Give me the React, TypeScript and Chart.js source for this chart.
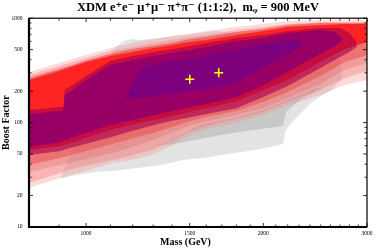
import React, { useEffect, useRef } from 'react';
import { Chart, registerables } from 'chart.js';

Chart.register(...registerables);

// ---------- data (mass in GeV, boost factor) ----------
const bandMass = [800, 900, 950, 1000, 1100, 1200, 1300, 1400, 1500, 1600, 1800, 2000, 2200, 2500, 2750, 3000];
const pinkOuterTop = [305, 372, 410, 444, 518, 580, 632, 675, 706, 754, 823, 880, 940, 961, 961, 961];
const pinkOuterBottom = [23.6, 29.3, 31.8, 34.5, 40.6, 44.1, 49.5, 61, 76, 87, 99, 118, 147, 184, 229, 256];
const pinkLightTop = [286, 348, 381, 416, 485, 530, 579, 618, 660, 690, 771, 823, 880, 920, 920, 920];
const pinkLightBottom = [26.4, 32.7, 36.1, 38.7, 43.3, 48.8, 55.1, 67.5, 81.6, 92.8, 108, 126, 158, 205, 267, 312];
const salmonTop = [267, 326, 356, 394, 454, 507, 542, 580, 632, 660, 738, 788, 861, 900, 900, 900];
const dustyBottom = [33.6, 39.1, 42, 44.8, 50.5, 58.8, 68.3, 80.2, 93.2, 103, 118, 138, 172, 234, 319, 372];
const salmonBottom = [39.3, 45.6, 49.6, 53.6, 61.8, 70.9, 79.5, 90.8, 103, 113, 129, 158, 196, 280, 381, 444];
const redTop = [256, 312, 347, 381, 434, 475, 518, 554, 592, 618, 690, 754, 823, 860, 880, 880];
const redBottom = [54.6, 59.5, 64.6, 71.7, 84.8, 95.7, 106, 115, 126, 137, 160, 205, 256, 381, 507, 592];

const crimsonMass = [800, 900, 915, 920, 950, 1000, 1100, 1200, 1300, 1400, 1500, 1600, 1800, 2000, 2200, 2500, 2700, 2800, 2880];
const crimsonTop = [132, 141, 141, 205, 229, 280, 390, 435, 475, 507, 542, 579, 646, 690, 754, 806, 806, 722, 592];
const crimsonBottom = [49, 53.3, 54.6, 55.2, 58, 62.7, 72.5, 83.5, 94.4, 104, 112, 121, 137, 176, 224, 333, 425, 475, 530];

const magentaMass = [800, 900, 915, 920, 950, 1000, 1100, 1200, 1300, 1400, 1500, 1600, 1800, 2000, 2200, 2500, 2650, 2720];
const magentaTop = [121, 129, 129, 184, 205, 256, 356, 398, 435, 464, 496, 530, 605, 646, 722, 771, 738, 646];
const magentaBottom = [58.4, 64.9, 66.6, 67.7, 72, 79.5, 94.8, 106, 117, 129, 140, 151, 175, 229, 305, 454, 542, 605];

const purpleMass = [1165, 1190, 1205, 1225, 1250, 1370, 1560, 1800, 2000, 2200, 2290, 2340, 2290, 2200, 2000, 1800, 1670, 1460, 1285];
const purpleBoost = [168, 214, 256, 305, 341, 381, 425, 507, 566, 618, 618, 566, 518, 454, 341, 245, 219, 196, 176];

const grayOuterMass = [1110, 1135, 1160, 1200, 1235, 1335, 1500, 1655, 1825, 2135, 2500, 2700, 2720, 2660, 2615, 2505, 2410, 2320, 2230, 2180, 2160, 1980, 1790, 1590, 1470, 1340, 1225, 1135, 1035, 943, 903];
const grayOuterBoost = [496, 554, 605, 632, 618, 646, 706, 754, 722, 646, 554, 398, 256, 234, 205, 180, 154, 124, 99, 83, 62.4, 55.8, 51.2, 46, 44, 39.3, 36.7, 35, 33.6, 30.8, 28.8];

const grayInnerMass = [1335, 1560, 1805, 2000, 2200, 2450, 2500, 2480, 2355, 2265, 2185, 2160, 1980, 1740, 1530, 1380];
const grayInnerBoost = [60, 95, 113, 132, 165, 214, 214, 205, 176, 151, 126, 93, 87, 78, 68, 61];

const bestFitMass = [1500, 1680];
const bestFitBoost = [260, 300];

const xLabelTicks = [1000, 1500, 2000, 3000];
const xMinorTicks = [800, 900, 1000, 1100, 1200, 1300, 1400, 1500, 1600, 1700, 1800, 1900, 2000, 2100, 2200, 2300, 2400, 2500, 2600, 2700, 2800, 2900, 3000];
const yLabelTicks = [10, 20, 50, 100, 200, 500, 1000];
const yMinorTicks = [30, 40, 60, 70, 80, 90, 300, 400, 600, 700, 800, 900];

// ---------- helpers ----------
type Pt = { x: number; y: number };
function band(mass: number[], top: number[], bottom: number[]): Pt[] {
  const pts: Pt[] = mass.map((m, i) => ({ x: m, y: top[i] }));
  for (let i = mass.length - 1; i >= 0; i--) pts.push({ x: mass[i], y: bottom[i] });
  return pts;
}
function ring(mass: number[], boost: number[]): Pt[] {
  return mass.map((m, i) => ({ x: m, y: boost[i] }));
}

const SERIF = "'Liberation Serif', 'DejaVu Serif', 'Times New Roman', serif";

const framePlugin = {
  id: 'frameTicks',
  afterDatasetsDraw(chart: any) {
    const { ctx, chartArea } = chart;
    const { left, right, top, bottom } = chartArea;
    const xs = chart.scales.x;
    const ys = chart.scales.y;
    ctx.save();
    ctx.strokeStyle = '#000';
    ctx.lineWidth = 0.8;
    ctx.beginPath();
    for (const v of xMinorTicks) {
      const px = xs.getPixelForValue(v);
      const len = xLabelTicks.includes(v) ? 4 : 2.5;
      ctx.moveTo(px, bottom);
      ctx.lineTo(px, bottom - len);
      ctx.moveTo(px, top);
      ctx.lineTo(px, top + len);
    }
    for (const v of [...yLabelTicks, ...yMinorTicks]) {
      const py = ys.getPixelForValue(v);
      const len = yLabelTicks.includes(v) ? 4 : 2.5;
      ctx.moveTo(left, py);
      ctx.lineTo(left + len, py);
      ctx.moveTo(right, py);
      ctx.lineTo(right - len, py);
    }
    ctx.stroke();
    ctx.lineWidth = 1.2;
    ctx.strokeRect(left, top, right - left, bottom - top);
    ctx.lineWidth = 2.2;
    ctx.beginPath();
    ctx.moveTo(left, top);
    ctx.lineTo(left, bottom);
    ctx.lineTo(right, bottom);
    ctx.stroke();
    ctx.restore();
  },
};

export default function App() {
  const ref = useRef<HTMLCanvasElement | null>(null);

  useEffect(() => {
    if (!ref.current) return;
    const regions = [
      { label: 'gray outer', data: ring(grayOuterMass, grayOuterBoost), color: '#e3e3e3' },
      { label: 'gray inner', data: ring(grayInnerMass, grayInnerBoost), color: '#c8c8c8' },
      { label: 'pink outer', data: band(bandMass, pinkOuterTop, pinkOuterBottom), color: 'rgba(250,140,140,0.32)' },
      { label: 'pink light', data: band(bandMass, pinkLightTop, pinkLightBottom), color: 'rgba(240,110,110,0.35)' },
      { label: 'pink dusty', data: band(bandMass, salmonTop, dustyBottom), color: 'rgba(215,95,95,0.28)' },
      { label: 'salmon', data: band(bandMass, salmonTop, salmonBottom), color: 'rgba(235,70,70,0.5)' },
      { label: 'red', data: band(bandMass, redTop, redBottom), color: 'rgba(255,30,30,0.93)' },
      { label: 'crimson', data: band(crimsonMass, crimsonTop, crimsonBottom), color: 'rgba(165,0,80,0.62)' },
      { label: 'magenta', data: band(magentaMass, magentaTop, magentaBottom), color: '#990066' },
      { label: 'purple', data: ring(purpleMass, purpleBoost), color: '#7d007d' },
    ];
    const n = regions.length;
    const datasets: any[] = regions.map((r, i) => ({
      type: 'line',
      label: r.label,
      data: r.data,
      fill: 'shape',
      backgroundColor: r.color,
      borderColor: 'rgba(0,0,0,0)',
      borderWidth: 0,
      pointRadius: 0,
      tension: 0,
      order: n - i + 1,
    }));
    datasets.push({
      type: 'line',
      label: 'best fit',
      data: ring(bestFitMass, bestFitBoost),
      showLine: false,
      pointStyle: 'cross',
      pointRadius: 4.5,
      pointBorderColor: '#ffff00',
      pointBackgroundColor: '#ffff00',
      pointBorderWidth: 1.6,
      order: 0,
    });

    const chart = new Chart(ref.current, {
      type: 'line',
      data: { datasets },
      options: {
        responsive: false,
        animation: false,
        events: [],
        layout: { padding: { left: 0, right: 12, top: 0, bottom: 0 } },
        plugins: {
          legend: { display: false },
          tooltip: { enabled: false },
          title: {
            display: true,
            text: 'XDM e⁺e⁻ μ⁺μ⁻ π⁺π⁻ (1:1:2),  mᵩ = 900 MeV',
            color: '#000',
            fullSize: false,
            font: { family: SERIF, size: 12.5, weight: 'bold' },
            padding: { top: 0, bottom: 3.2 },
          },
        },
        scales: {
          x: {
            type: 'logarithmic',
            min: 800,
            max: 3000,
            grid: { display: false, drawTicks: false },
            border: { display: false },
            afterBuildTicks: (s: any) => {
              s.ticks = xLabelTicks.map((v) => ({ value: v }));
            },
            afterFit: (s: any) => {
              s.height = 23;
            },
            ticks: {
              autoSkip: false,
              maxRotation: 0,
              padding: 3.7,
              color: '#000',
              font: { family: SERIF, size: 5.5 },
              callback: (v: any) => String(v),
            },
            title: {
              display: true,
              text: 'Mass (GeV)\u2002\u2002\u2002\u2002\u2002',
              color: '#000',
              font: { family: SERIF, size: 10, weight: 'bold' },
              padding: { top: 0, bottom: 2 },
            },
          },
          y: {
            type: 'logarithmic',
            min: 10,
            max: 1000,
            grid: { display: false, drawTicks: false },
            border: { display: false },
            afterBuildTicks: (s: any) => {
              s.ticks = yLabelTicks.map((v) => ({ value: v }));
            },
            afterFit: (s: any) => {
              s.width = 29;
            },
            ticks: {
              autoSkip: false,
              padding: 6.5,
              color: '#000',
              font: { family: SERIF, size: 5.5 },
              callback: (v: any) => String(v),
            },
            title: {
              display: true,
              text: 'Boost Factor',
              color: '#000',
              font: { family: SERIF, size: 10, weight: 'bold' },
              padding: { top: 0, bottom: 0 },
            },
          },
        },
      } as any,
      plugins: [framePlugin],
    });
    return () => chart.destroy();
  }, []);

  return (
    <div style={{ position: 'absolute', left: 0, top: 0, width: 379, height: 250, background: '#fff' }}>
      <canvas ref={ref} width={379} height={250} style={{ display: 'block', width: 379, height: 250 }} />
    </div>
  );
}
